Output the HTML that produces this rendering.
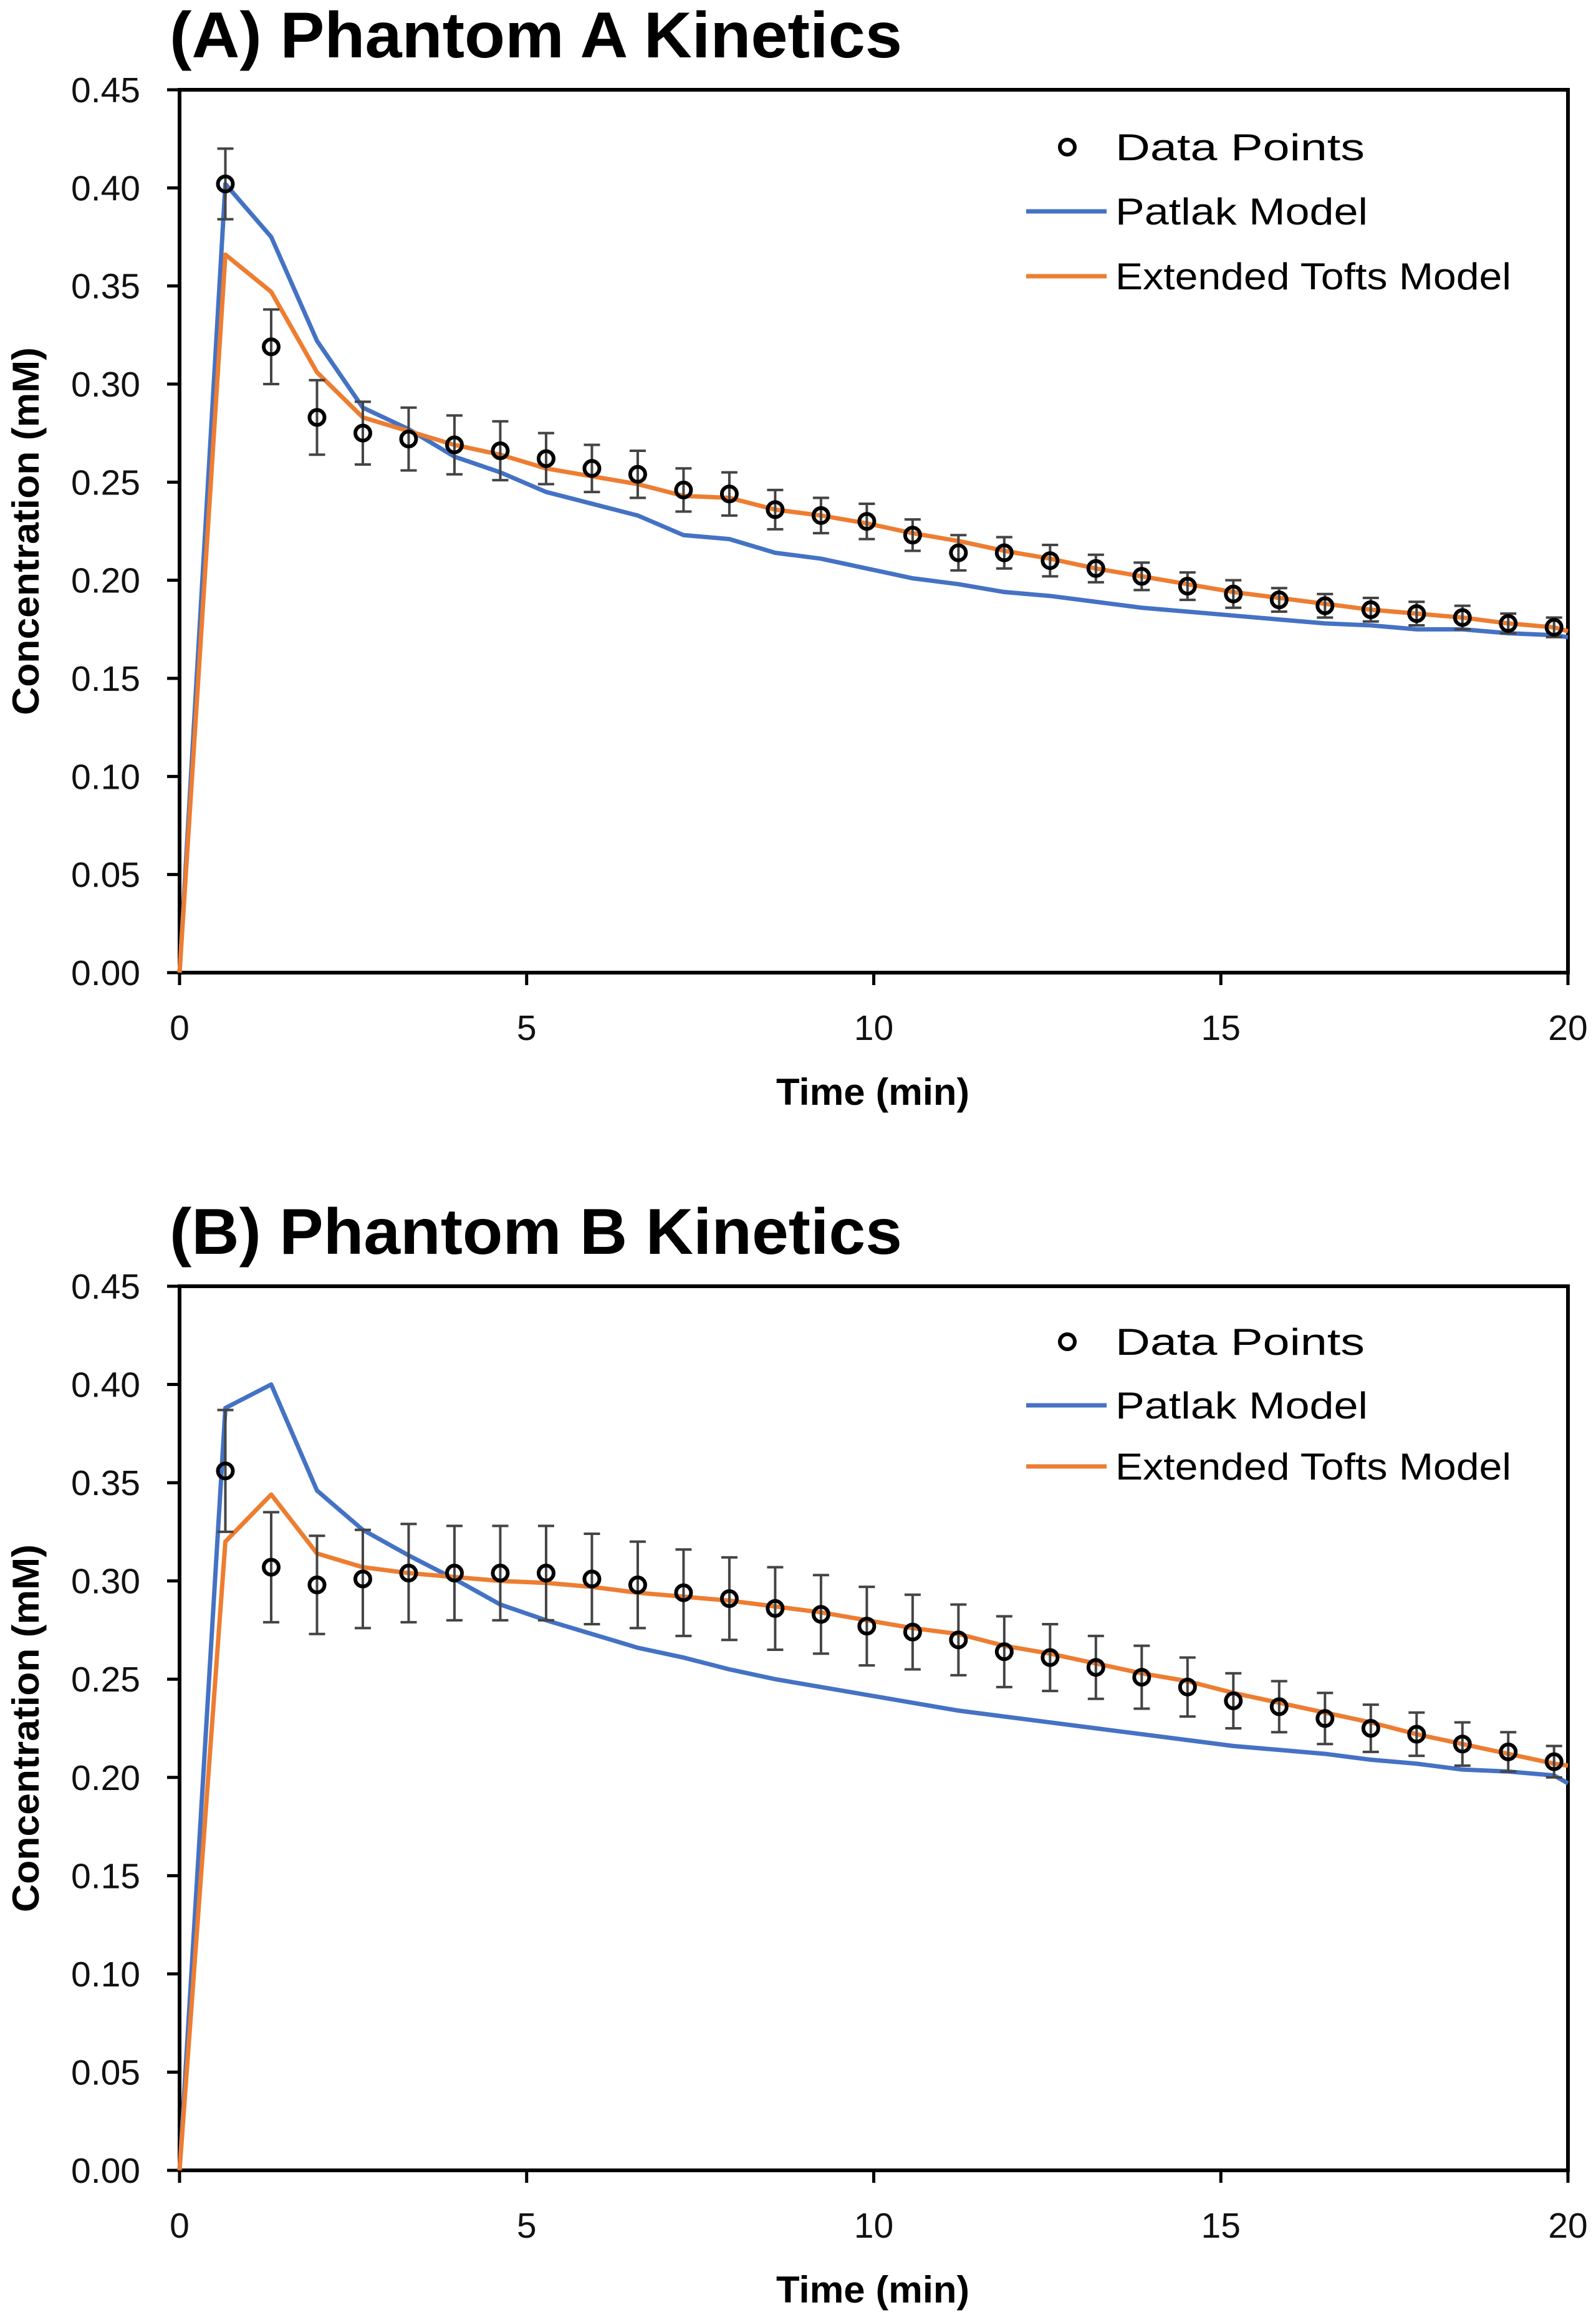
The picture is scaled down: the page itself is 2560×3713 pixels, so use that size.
<!DOCTYPE html>
<html><head><meta charset="utf-8"><style>
html,body{margin:0;padding:0;background:#fff;}
svg{display:block;}
</style></head><body>
<svg id="fig" xmlns="http://www.w3.org/2000/svg" width="2560" height="3713" viewBox="0 0 2560 3713" font-family="Liberation Sans, sans-serif"></svg>
<script>
const xTicks=[0,5,10,15,20];
const yTicks=["0.00","0.05","0.10","0.15","0.20","0.25","0.30","0.35","0.40","0.45"];
const dataTimes=[0.66,1.32,1.98,2.64,3.3,3.96,4.62,5.28,5.94,6.6,7.26,7.92,8.58,9.24,9.9,10.56,11.22,11.88,12.54,13.2,13.86,14.52,15.18,15.84,16.5,17.16,17.82,18.48,19.14,19.8];
const modelTimes=[0,0.66,1.32,1.98,2.64,3.3,3.96,4.62,5.28,5.94,6.6,7.26,7.92,8.58,9.24,9.9,10.56,11.22,11.88,12.54,13.2,13.86,14.52,15.18,15.84,16.5,17.16,17.82,18.48,19.14,19.8,20];
const dataA=[0.402,0.319,0.283,0.275,0.272,0.269,0.266,0.262,0.257,0.254,0.246,0.244,0.236,0.233,0.230,0.223,0.214,0.214,0.210,0.206,0.202,0.197,0.193,0.190,0.187,0.185,0.183,0.181,0.178,0.176];
const errA=[0.018,0.019,0.019,0.016,0.016,0.015,0.015,0.013,0.012,0.012,0.011,0.011,0.010,0.009,0.009,0.008,0.009,0.008,0.008,0.007,0.007,0.007,0.007,0.006,0.006,0.006,0.006,0.006,0.005,0.005];
const patlakA=[0,0.402,0.375,0.322,0.288,0.277,0.263,0.255,0.245,0.239,0.233,0.223,0.221,0.214,0.211,0.206,0.201,0.198,0.194,0.192,0.189,0.186,0.184,0.182,0.180,0.178,0.177,0.175,0.175,0.173,0.172,0.171];
const toftsA=[0,0.366,0.347,0.306,0.283,0.276,0.269,0.264,0.257,0.253,0.249,0.243,0.242,0.236,0.233,0.229,0.224,0.220,0.215,0.211,0.206,0.202,0.198,0.194,0.191,0.188,0.185,0.183,0.181,0.178,0.176,0.174];
const dataB=[0.356,0.307,0.298,0.301,0.304,0.304,0.304,0.304,0.301,0.298,0.294,0.291,0.286,0.283,0.277,0.274,0.270,0.264,0.261,0.256,0.251,0.246,0.239,0.236,0.230,0.225,0.222,0.217,0.213,0.208];
const errB=[0.031,0.028,0.025,0.025,0.025,0.024,0.024,0.024,0.023,0.022,0.022,0.021,0.021,0.020,0.020,0.019,0.018,0.018,0.017,0.016,0.016,0.015,0.014,0.013,0.013,0.012,0.011,0.011,0.010,0.008];
const patlakB=[0,0.388,0.400,0.346,0.326,0.313,0.301,0.288,0.280,0.273,0.266,0.261,0.255,0.250,0.246,0.242,0.238,0.234,0.231,0.228,0.225,0.222,0.219,0.216,0.214,0.212,0.209,0.207,0.204,0.203,0.201,0.197];
const toftsB=[0,0.320,0.344,0.314,0.307,0.304,0.302,0.300,0.299,0.297,0.294,0.292,0.290,0.287,0.284,0.280,0.276,0.273,0.267,0.263,0.258,0.253,0.249,0.243,0.238,0.233,0.228,0.222,0.217,0.212,0.207,0.206];

const NS='http://www.w3.org/2000/svg';
const svg=document.getElementById('fig');
function mk(tag,attrs,parent){const e=document.createElementNS(NS,tag);for(const k in attrs)e.setAttribute(k,attrs[k]);(parent||svg).appendChild(e);return e;}

function panel(id,title,top,bottom,data,err,patlak,tofts,legY){
  const L=288,R=2515;
  const g=mk('g',{});
  
  
  const xs=t=>L+(R-L)*t/20;
  const ys=v=>bottom-(bottom-top)*v/0.45;
  const t=mk('text',{x:272,y:top-52,'font-size':104,'font-weight':'bold',textLength:1175,lengthAdjust:'spacingAndGlyphs'},g);
  t.textContent=title;
  
  
  // y ticks
  yTicks.forEach(s=>{const v=parseFloat(s);const y=ys(v);
    mk('line',{x1:L-20,x2:L,y1:y,y2:y,stroke:'#000','stroke-width':5},g);
    const tx=mk('text',{x:225,y:y+20,'font-size':57,'text-anchor':'end',fill:'#111'},g);tx.textContent=s;
    
    
  });
  xTicks.forEach(v=>{const x=xs(v);
    mk('line',{x1:x,x2:x,y1:bottom,y2:bottom+20,stroke:'#000','stroke-width':5},g);
    const tx=mk('text',{x:x,y:bottom+108,'font-size':57,'text-anchor':'middle',fill:'#111'},g);tx.textContent=v;
    
    
  });
  const frame=mk('rect',{x:L,y:top,width:R-L,height:bottom-top,fill:'none',stroke:'#000','stroke-width':6},g);
  
  
  const xt=mk('text',{x:1400,y:bottom+212,'font-size':60,'font-weight':'bold','text-anchor':'middle',textLength:310,lengthAdjust:'spacingAndGlyphs'},g);xt.textContent='Time (min)';
  
  
  const cy=(top+bottom)/2;
  const yt=mk('text',{x:0,y:0,'font-size':60,'font-weight':'bold','text-anchor':'middle',transform:`translate(62,${cy}) rotate(-90)`,textLength:590,lengthAdjust:'spacingAndGlyphs'},g);yt.textContent='Concentration (mM)';
  
  
  // lines
  const pp=patlak.map((v,i)=>xs(modelTimes[i])+','+ys(v)).join(' ');
  const pl=mk('polyline',{points:pp,fill:'none',stroke:'#4472C4','stroke-width':7,'stroke-linejoin':'round'},g);
  
  
  const tp=tofts.map((v,i)=>xs(modelTimes[i])+','+ys(v)).join(' ');
  const tl=mk('polyline',{points:tp,fill:'none',stroke:'#ED7D31','stroke-width':7,'stroke-linejoin':'round'},g);
  
  
  // error bars + points
  data.forEach((v,i)=>{const x=xs(dataTimes[i]);const y1=ys(v+err[i]),y2=ys(v-err[i]);
    const eb=mk('path',{d:`M${x},${y1}V${y2}M${x-13},${y1}H${x+13}M${x-13},${y2}H${x+13}`,stroke:'#444','stroke-width':4,fill:'none'},g);
    
    
  });
  data.forEach((v,i)=>{
    const c=mk('circle',{cx:xs(dataTimes[i]),cy:ys(v),r:12,fill:'none',stroke:'#000','stroke-width':6},g);
    
    
  });
  // legend
  const lg=mk('g',{},g);
  
  
  const rows=[['Data Points',null,400],['Patlak Model','#4472C4',405],['Extended Tofts Model','#ED7D31',635]];
  rows.forEach((r,i)=>{const y=legY[i];
    if(r[1]) mk('line',{x1:1646,x2:1775,y1:y,y2:y,stroke:r[1],'stroke-width':7},lg);
    else mk('circle',{cx:1712,cy:y,r:12,fill:'none',stroke:'#000','stroke-width':6},lg);
    const tx=mk('text',{x:1789,y:y+21,'font-size':60,textLength:r[2],lengthAdjust:'spacingAndGlyphs'},lg);tx.textContent=r[0];
    
    
  });
}
panel('phantom-a','(A) Phantom A Kinetics',144,1560,dataA,errA,patlakA,toftsA,[236,339,443]);
panel('phantom-b','(B) Phantom B Kinetics',2063,3481,dataB,errB,patlakB,toftsB,[2152,2254,2352]);
</script>
</body></html>
